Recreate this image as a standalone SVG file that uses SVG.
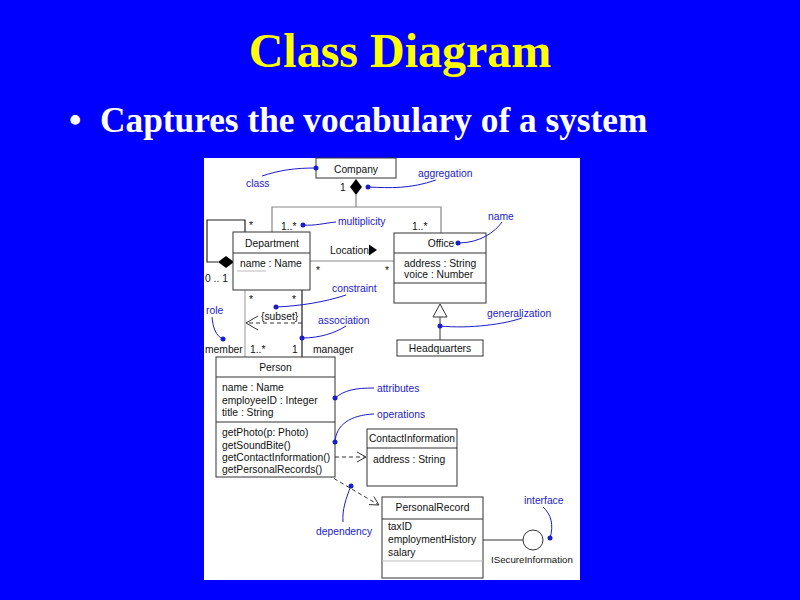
<svg xmlns="http://www.w3.org/2000/svg" width="800" height="600" viewBox="0 0 800 600">
<style>
.t{font-family:"Liberation Sans",Arial,sans-serif;font-size:10.3px;fill:#111}
.c{text-anchor:middle}
.n{font-family:"Liberation Sans",Arial,sans-serif;font-size:10.3px;fill:#1c1cc8}
.box{fill:#fff;stroke:#333;stroke-width:1}
.sep{stroke:#333;stroke-width:1}
.lt{stroke:#bbb;stroke-width:1}
.as{fill:none;stroke:#888;stroke-width:1.2}
.dk{fill:none;stroke:#555;stroke-width:1.6}
.da{fill:none;stroke:#333;stroke-width:1;stroke-dasharray:4,3}
.ah{fill:none;stroke:#333;stroke-width:1}
.lead{fill:none;stroke:#1c1cc8;stroke-width:1}
.dot{fill:#1c1cc8}
</style>
<rect width="800" height="600" fill="#0000ff"/>
<text x="400" y="67" text-anchor="middle" font-family="'Liberation Serif','Times New Roman',serif" font-weight="bold" font-size="48" fill="#ffff00">Class Diagram</text>
<text x="69" y="132" font-family="'Liberation Serif','Times New Roman',serif" font-weight="bold" font-size="35.3" fill="#fff">•</text>
<text x="100" y="132" font-family="'Liberation Serif','Times New Roman',serif" font-weight="bold" font-size="35.3" fill="#fff">Captures the vocabulary of a system</text>
<rect x="204" y="158" width="376" height="422" fill="#fff"/>

<g id="connectors">
  <path class="as" d="M356,195 V207 M272,232 V207 H441 V233"/>
  <polygon points="356,179 362,187 356,195 350,187" fill="#000"/>
  <path class="as" d="M245,232 V220 H207 V262 H218" style="stroke:#222"/>
  <polygon points="218,262 226,256 234,262 226,268" fill="#000"/>
  <path class="as" d="M310,261 H394"/>
  <polygon points="369,244.5 377,250 369,255.5" fill="#000"/>
  <path class="as" d="M245,290 V357" style="stroke:#aaa"/>
  <path class="dk" d="M302,290 V357"/>
  <path class="da" d="M302,323 H247"/>
  <path class="ah" d="M258,316 L246,323 L258,330"/>
  <path class="ah" d="M440,317 V340"/>
  <polygon points="440,304 433,317 447,317" fill="#fff" stroke="#333" stroke-width="1"/>
  <path class="da" d="M335,457 H365"/>
  <path class="ah" d="M357,452 L366,457 L357,462"/>
  <path class="da" d="M328,475 L378,504.5"/>
  <path class="ah" d="M373.8,496.5 L379,505 L369,504.6"/>
  <path class="ah" d="M483,540 H523"/>
  <circle cx="533" cy="540" r="10" fill="#fff" stroke="#333" stroke-width="1"/>
</g>

<g id="company">
  <rect class="box" x="316" y="158" width="80" height="20"/>
  <text class="t c" x="356" y="173">Company</text>
</g>
<g id="department">
  <rect class="box" x="233" y="232" width="77" height="58"/>
  <line class="sep" x1="233" y1="253" x2="310" y2="253"/>
  <line class="lt" x1="237" y1="271" x2="266" y2="271"/>
  <text class="t c" x="272" y="247">Department</text>
  <text class="t" x="240" y="267">name : Name</text>
</g>
<g id="office">
  <rect class="box" x="394" y="233" width="92" height="70"/>
  <line class="sep" x1="394" y1="253" x2="486" y2="253"/>
  <line class="sep" x1="394" y1="283" x2="486" y2="283"/>
  <text class="t c" x="441" y="247">Office</text>
  <text class="t" x="404" y="267">address : String</text>
  <text class="t" x="404" y="277.5">voice : Number</text>
</g>
<g id="headquarters">
  <rect class="box" x="397" y="340" width="86" height="16"/>
  <text class="t c" x="440" y="352">Headquarters</text>
</g>
<g id="person">
  <rect class="box" x="216" y="357" width="119" height="120"/>
  <line class="sep" x1="216" y1="377" x2="335" y2="377"/>
  <line class="sep" x1="216" y1="422" x2="335" y2="422"/>
  <text class="t c" x="275.5" y="371">Person</text>
  <text class="t" x="222" y="390.5">name : Name</text>
  <text class="t" x="222" y="403.5">employeeID : Integer</text>
  <text class="t" x="222" y="416">title : String</text>
  <text class="t" x="222" y="435.5">getPhoto(p: Photo)</text>
  <text class="t" x="222" y="448.5">getSoundBite()</text>
  <text class="t" x="222" y="461">getContactInformation()</text>
  <text class="t" x="222" y="473">getPersonalRecords()</text>
</g>
<g id="contactinformation">
  <rect class="box" x="367" y="429" width="90" height="57"/>
  <line class="sep" x1="367" y1="448" x2="457" y2="448"/>
  <text class="t c" x="412" y="442" textLength="86" lengthAdjust="spacingAndGlyphs">ContactInformation</text>
  <text class="t" x="373" y="463">address : String</text>
</g>
<g id="personalrecord">
  <rect class="box" x="382" y="497" width="101" height="81"/>
  <line class="sep" x1="382" y1="519" x2="483" y2="519"/>
  <line class="lt" x1="382" y1="561" x2="483" y2="561"/>
  <text class="t c" x="432.5" y="511">PersonalRecord</text>
  <text class="t" x="388" y="530">taxID</text>
  <text class="t" x="388" y="543">employmentHistory</text>
  <text class="t" x="388" y="555.5">salary</text>
</g>
<g id="isecureinformation">
  <text class="t" x="491" y="563" style="font-size:9.7px">ISecureInformation</text>
</g>

<g id="multiplicities">
  <text class="t" x="340" y="191">1</text>
  <text class="t" x="249" y="229">*</text>
  <text class="t" x="205" y="282">0 .. 1</text>
  <text class="t" x="281" y="230">1..*</text>
  <text class="t" x="412" y="230">1..*</text>
  <text class="t" x="330" y="254">Location</text>
  <text class="t" x="316" y="274">*</text>
  <text class="t" x="385" y="274">*</text>
  <text class="t" x="249" y="302.5">*</text>
  <text class="t" x="292" y="302.5">*</text>
  <text class="t" x="261" y="320">{subset}</text>
  <text class="t" x="205" y="353">member</text>
  <text class="t" x="250" y="353">1..*</text>
  <text class="t" x="292" y="353">1</text>
  <text class="t" x="313" y="353">manager</text>
</g>

<g id="annotations">
  <path class="lead" d="M262,176 C280,170 295,168 316,168"/>
  <circle class="dot" cx="316" cy="168" r="2.5"/>
  <text class="n" x="246" y="187">class</text>
  <path class="lead" d="M368,187 C390,188 410,189 436,180"/>
  <circle class="dot" cx="368" cy="187" r="2.5"/>
  <text class="n" x="418" y="177">aggregation</text>
  <path class="lead" d="M303,225 C315,226 325,223 336,222"/>
  <circle class="dot" cx="303" cy="225" r="2.5"/>
  <text class="n" x="338" y="225">multiplicity</text>
  <path class="lead" d="M458,243 C480,243 495,232 502,222"/>
  <circle class="dot" cx="458" cy="243" r="2.5"/>
  <text class="n" x="488" y="220">name</text>
  <path class="lead" d="M440,326 C470,329 505,324 522,318"/>
  <circle class="dot" cx="440" cy="326" r="2.5"/>
  <text class="n" x="487" y="316.5">generalization</text>
  <path class="lead" d="M276,307 C300,306 325,302 346,295"/>
  <circle class="dot" cx="276" cy="307" r="2.5"/>
  <text class="n" x="332" y="292">constraint</text>
  <path class="lead" d="M302,338 C320,338 335,333 346,326"/>
  <circle class="dot" cx="302" cy="338" r="2.5"/>
  <text class="n" x="318" y="324">association</text>
  <path class="lead" d="M212,317 C213,328 216,336 223,339"/>
  <circle class="dot" cx="223" cy="339" r="2.5"/>
  <text class="n" x="206" y="313.5">role</text>
  <path class="lead" d="M335,398 C345,390 355,388 374,388"/>
  <circle class="dot" cx="335" cy="398" r="2.5"/>
  <text class="n" x="377" y="392">attributes</text>
  <path class="lead" d="M335,442 C336,425 350,415 374,414"/>
  <circle class="dot" cx="335" cy="442" r="2.5"/>
  <text class="n" x="377" y="418">operations</text>
  <path class="lead" d="M351,486 C346,498 342,510 343,522"/>
  <circle class="dot" cx="351" cy="486" r="2.5"/>
  <text class="n" x="316" y="535">dependency</text>
  <path class="lead" d="M550,538 C554,525 551,514 543,507"/>
  <circle class="dot" cx="550" cy="538" r="2.5"/>
  <text class="n" x="524" y="504">interface</text>
</g>
</svg>
